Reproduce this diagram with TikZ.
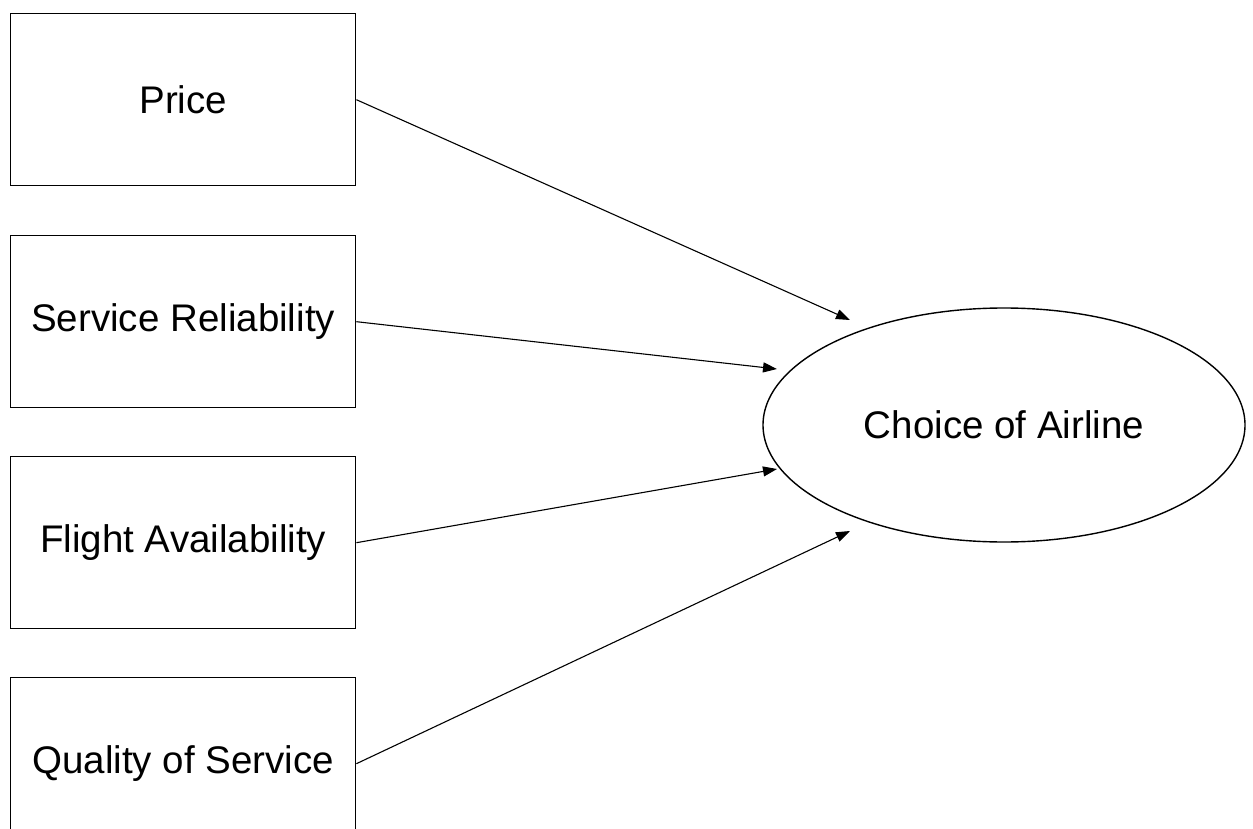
\documentclass[tikz,border=0pt]{standalone}
\usepackage{fontspec}
\setmainfont{Liberation Sans}
\usetikzlibrary{shapes.geometric,arrows.meta}
\begin{document}
\begin{tikzpicture}[x=1pt,y=-1pt,
  factor/.style={draw,line width=1.4pt,rectangle,anchor=north west,
    minimum width=345pt,minimum height=172pt,inner sep=0pt,
    font=\fontsize{38.5}{40}\selectfont},
  outcome/.style={draw,line width=1.4pt,ellipse,
    minimum width=482pt,minimum height=234pt,inner sep=0pt,
    font=\fontsize{38.5}{40}\selectfont},
  link/.style={line width=1.1pt,-{Triangle[length=14pt,width=10pt]}}]
  \useasboundingbox (0,0) rectangle (1253,829);
  \fill[white] (0,0) rectangle (1253,829);
  \begin{scope}
    \clip (0,0) rectangle (1253,829);
    % explanatory factors
    \node[factor] (price)   at (10,13)  {Price};
    \node[factor] (reliab)  at (10,235) {Service Reliability};
    \node[factor] (avail)   at (10,456) {Flight Availability};
    \node[factor] (quality) at (10,677) {Quality of Service};
  \end{scope}
  % outcome
  \node[outcome] (choice) at (1004,425) {Choice of Airline};
  % arrow tips, just outside the ellipse
  \coordinate (tprice)   at (850,320);
  \coordinate (treliab)  at (777,369);
  \coordinate (tavail)   at (777,469);
  \coordinate (tquality) at (850,531);
  \draw[link] (price.east)   -- (tprice);
  \draw[link] (reliab.east)  -- (treliab);
  \draw[link] (avail.east)   -- (tavail);
  \draw[link] (quality.east) -- (tquality);
\end{tikzpicture}
\end{document}
